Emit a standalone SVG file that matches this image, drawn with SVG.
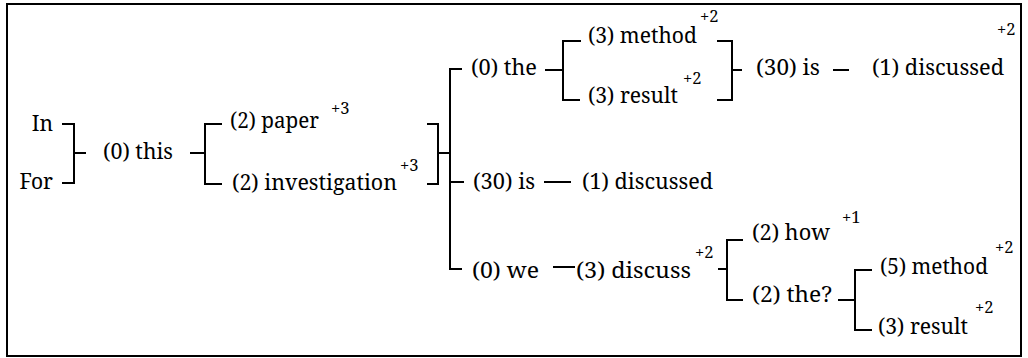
<svg xmlns="http://www.w3.org/2000/svg" width="1028" height="358" viewBox="0 0 1028 358">
  <style>
    .frame { fill: #ffffff; stroke: #000000; stroke-width: 2; }
    .w { font-family: "Noto Serif", "DejaVu Serif", serif; font-size: 21px; fill: #000000; }
    .sup { font-family: "Noto Serif", "DejaVu Serif", serif; font-size: 16.5px; fill: #000000; }
    .link { fill: none; stroke: #000000; stroke-width: 2; stroke-linecap: butt; stroke-linejoin: miter; }
  </style>

  <rect class="frame" x="7" y="4" width="1014" height="352"/>

  <!-- brackets and dashes joining the words -->
  <g id="connectors">
    <!-- In / For merge into "this" -->
    <path class="link" d="M62,124 H74 V183 H62 M74,153 H86"/>
    <!-- this splits into paper / investigation -->
    <path class="link" d="M190,153 H205 M222,124 H205 V184 H222"/>
    <!-- paper / investigation merge -->
    <path class="link" d="M427,124 H438 V184 H427 M438,153 H450"/>
    <!-- three continuations -->
    <path class="link" d="M462,69 H450 V269 H462 M450,182 H464"/>
    <!-- the splits into method / result -->
    <path class="link" d="M545,70 H563 M581,41 H563 V100 H580"/>
    <!-- method / result merge -->
    <path class="link" d="M717,41 H732 V100 H717 M732,70 H742"/>
    <!-- is - discussed (top) -->
    <path class="link" d="M833,70 H849"/>
    <!-- is - discussed (middle) -->
    <path class="link" d="M544,182 H571"/>
    <!-- we - discuss -->
    <path class="link" d="M553,267 H575"/>
    <!-- discuss splits into how / the? -->
    <path class="link" d="M718,269 H727 M743,240 H727 V300 H743"/>
    <!-- the? splits into method / result -->
    <path class="link" d="M838,300 H855 M872,270 H855 V330 H872"/>
  </g>

  <g id="n-in"><text class="w" x="53" y="131" text-anchor="end">In</text></g>
  <g id="n-for"><text class="w" x="53" y="189" text-anchor="end">For</text></g>
  <g id="n-this"><text class="w" x="103" y="159" textLength="70" lengthAdjust="spacingAndGlyphs">(0) this</text></g>

  <g id="n-paper">
    <text class="w" x="230" y="128" textLength="89" lengthAdjust="spacingAndGlyphs">(2) paper</text>
    <text class="sup" x="331" y="114">+3</text>
  </g>
  <g id="n-investigation">
    <text class="w" x="232" y="190" textLength="165" lengthAdjust="spacingAndGlyphs">(2) investigation</text>
    <text class="sup" x="400" y="171">+3</text>
  </g>

  <g id="n-the">
    <text class="w" x="471" y="75" textLength="66" lengthAdjust="spacingAndGlyphs">(0) the</text>
  </g>
  <g id="n-method-a">
    <text class="w" x="588" y="43" textLength="109" lengthAdjust="spacingAndGlyphs">(3) method</text>
    <text class="sup" x="700" y="22">+2</text>
  </g>
  <g id="n-result-a">
    <text class="w" x="588" y="103" textLength="90" lengthAdjust="spacingAndGlyphs">(3) result</text>
    <text class="sup" x="683" y="84">+2</text>
  </g>
  <g id="n-is-a">
    <text class="w" x="756" y="75" textLength="64" lengthAdjust="spacingAndGlyphs">(30) is</text>
  </g>
  <g id="n-discussed-a">
    <text class="w" x="872" y="75" textLength="132" lengthAdjust="spacingAndGlyphs">(1) discussed</text>
    <text class="sup" x="997" y="35">+2</text>
  </g>

  <g id="n-is-b">
    <text class="w" x="473" y="189" textLength="62" lengthAdjust="spacingAndGlyphs">(30) is</text>
  </g>
  <g id="n-discussed-b">
    <text class="w" x="582" y="189" textLength="131" lengthAdjust="spacingAndGlyphs">(1) discussed</text>
  </g>

  <g id="n-we">
    <text class="w" x="472" y="278" textLength="67" lengthAdjust="spacingAndGlyphs">(0) we</text>
  </g>
  <g id="n-discuss">
    <text class="w" x="576" y="278" textLength="115" lengthAdjust="spacingAndGlyphs">(3) discuss</text>
    <text class="sup" x="695" y="258">+2</text>
  </g>
  <g id="n-how">
    <text class="w" x="752" y="240" textLength="78" lengthAdjust="spacingAndGlyphs">(2) how</text>
    <text class="sup" x="842" y="223">+1</text>
  </g>
  <g id="n-the-q">
    <text class="w" x="752" y="302" textLength="80" lengthAdjust="spacingAndGlyphs">(2) the?</text>
  </g>
  <g id="n-method-b">
    <text class="w" x="880" y="274" textLength="108" lengthAdjust="spacingAndGlyphs">(5) method</text>
    <text class="sup" x="995" y="253">+2</text>
  </g>
  <g id="n-result-b">
    <text class="w" x="878" y="334" textLength="90" lengthAdjust="spacingAndGlyphs">(3) result</text>
    <text class="sup" x="975" y="313">+2</text>
  </g>
</svg>
